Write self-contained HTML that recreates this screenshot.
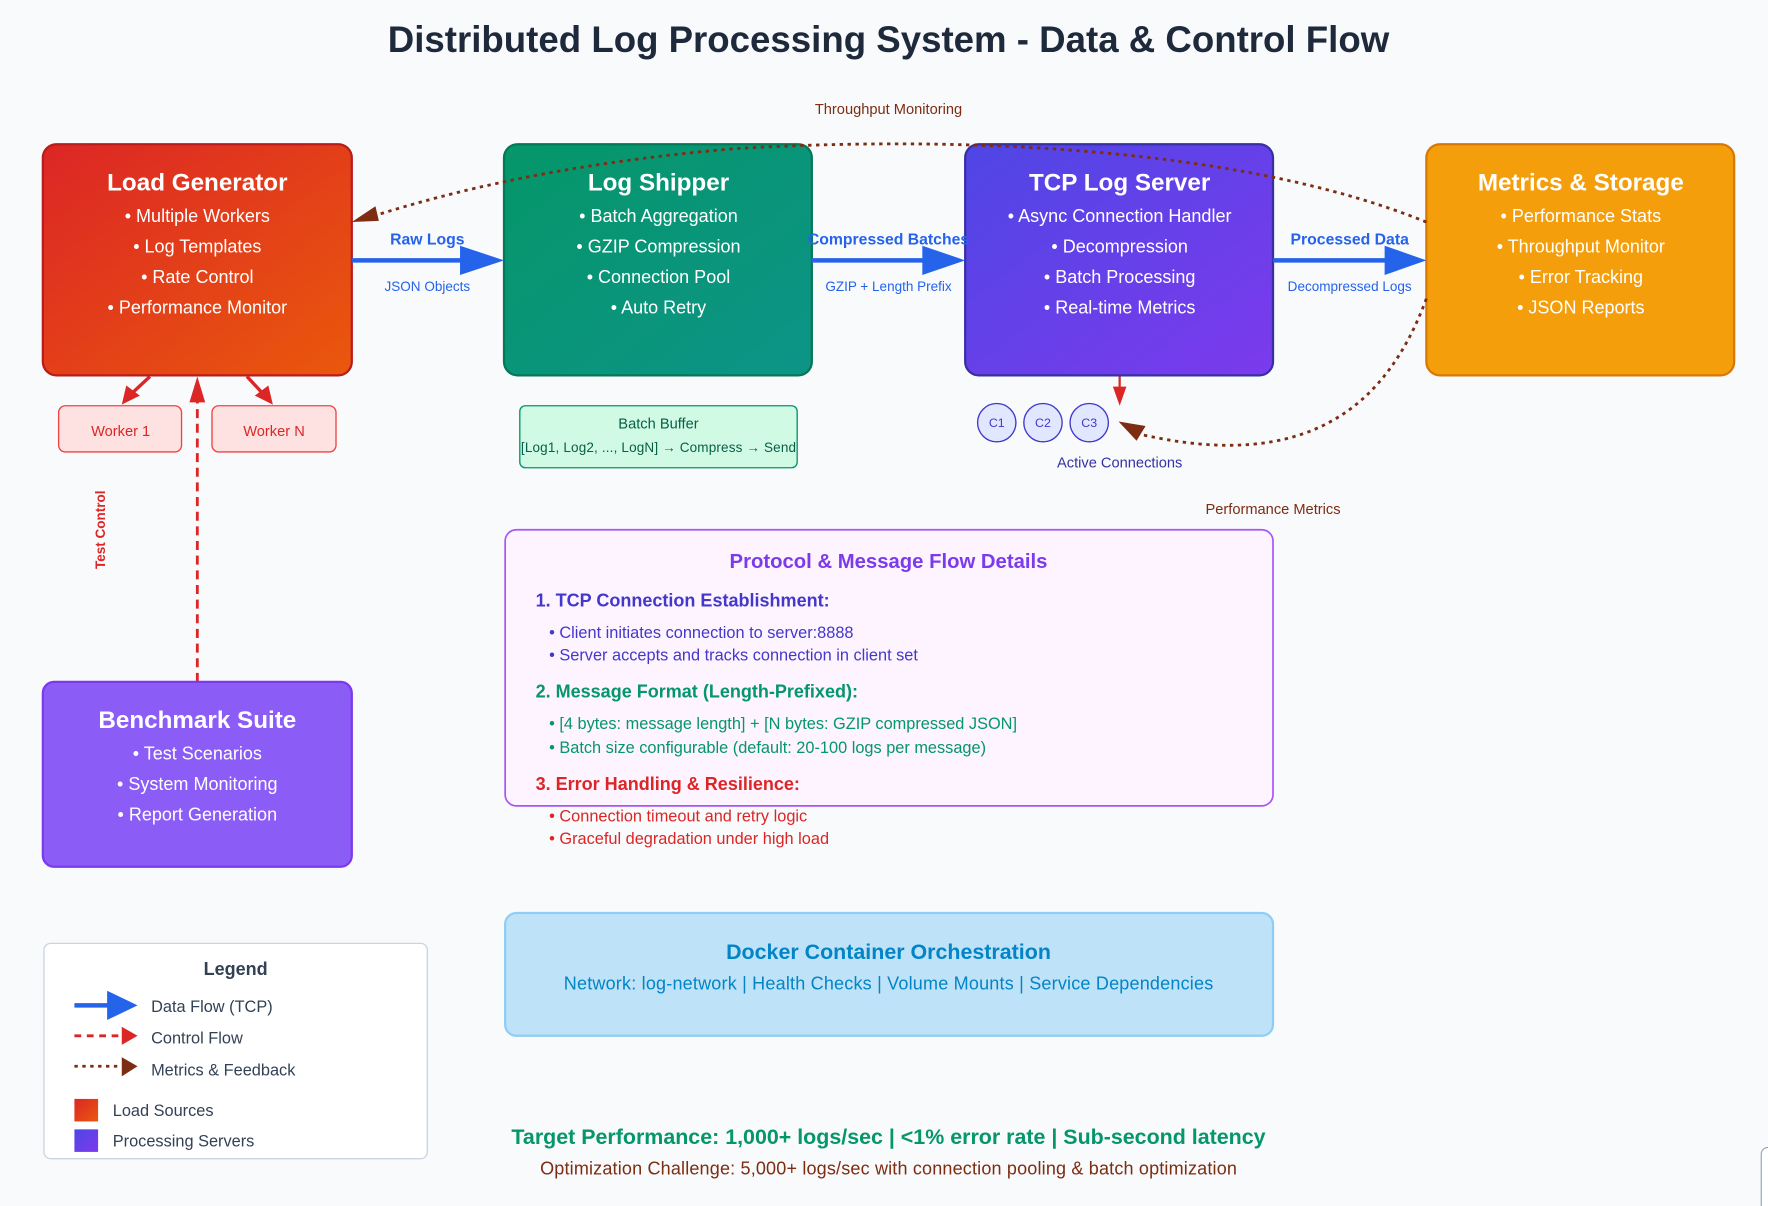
<!DOCTYPE html>
<html><head><meta charset="utf-8"><style>html,body{margin:0;padding:0;background:#f8fafc;}svg{display:block;font-family:"Liberation Sans",Arial,sans-serif;}</style></head>
<body>
<svg width="1768" height="1206" viewBox="0 0 1568 1070" preserveAspectRatio="none" xmlns="http://www.w3.org/2000/svg">
<defs>
<linearGradient id="gr" x1="0" y1="0" x2="1" y2="1"><stop offset="0" stop-color="#dc2626"/><stop offset="1" stop-color="#ea580c"/></linearGradient>
<linearGradient id="gg" x1="0" y1="0" x2="1" y2="1"><stop offset="0" stop-color="#059669"/><stop offset="1" stop-color="#0d9488"/></linearGradient>
<linearGradient id="gp" x1="0" y1="0" x2="1" y2="1"><stop offset="0" stop-color="#4f46e5"/><stop offset="1" stop-color="#7c3aed"/></linearGradient>
</defs>
<rect width="1568" height="1070" fill="#f8fafc"/>
<text x="788" y="46" text-anchor="middle" font-size="32.5" font-weight="bold" fill="#1e293b">Distributed Log Processing System - Data &amp; Control Flow</text>

<rect x="38" y="128" width="274" height="205" rx="12" fill="url(#gr)" stroke="#b91c1c" stroke-width="2"/>
<rect x="447" y="128" width="273" height="205" rx="12" fill="url(#gg)" stroke="#047857" stroke-width="2"/>
<rect x="856" y="128" width="273" height="205" rx="12" fill="url(#gp)" stroke="#3730a3" stroke-width="2"/>
<rect x="1265" y="128" width="273" height="205" rx="12" fill="#f59e0b" stroke="#d97706" stroke-width="2"/>
<g fill="#fff" text-anchor="middle">
<text x="175" y="169" font-size="21.5" font-weight="bold">Load Generator</text>
<g font-size="16"><text x="175" y="197">• Multiple Workers</text><text x="175" y="224">• Log Templates</text><text x="175" y="251">• Rate Control</text><text x="175" y="278">• Performance Monitor</text></g>
<text x="584" y="169" font-size="21.5" font-weight="bold">Log Shipper</text>
<g font-size="16"><text x="584" y="197">• Batch Aggregation</text><text x="584" y="224">• GZIP Compression</text><text x="584" y="251">• Connection Pool</text><text x="584" y="278">• Auto Retry</text></g>
<text x="993" y="169" font-size="21.5" font-weight="bold">TCP Log Server</text>
<g font-size="16"><text x="993" y="197">• Async Connection Handler</text><text x="993" y="224">• Decompression</text><text x="993" y="251">• Batch Processing</text><text x="993" y="278">• Real-time Metrics</text></g>
<text x="1402" y="169" font-size="21.5" font-weight="bold">Metrics &amp; Storage</text>
<g font-size="16"><text x="1402" y="197">• Performance Stats</text><text x="1402" y="224">• Throughput Monitor</text><text x="1402" y="251">• Error Tracking</text><text x="1402" y="278">• JSON Reports</text></g>
</g>

<g stroke="#2563eb" stroke-width="4">
<line x1="312" y1="231" x2="410" y2="231"/><line x1="720" y1="231" x2="820" y2="231"/><line x1="1129" y1="231" x2="1230" y2="231"/>
</g>
<g fill="#2563eb"><path d="M408,218 L447,231 L408,244z"/><path d="M818,218 L856,231 L818,244z"/><path d="M1228,218 L1265,231 L1228,244z"/></g>
<g fill="#2563eb" text-anchor="middle">
<text x="379" y="217" font-size="14" font-weight="bold">Raw Logs</text><text x="379" y="258" font-size="12">JSON Objects</text>
<text x="788" y="217" font-size="14" font-weight="bold">Compressed Batches</text><text x="788" y="258" font-size="12">GZIP + Length Prefix</text>
<text x="1197" y="217" font-size="14" font-weight="bold">Processed Data</text><text x="1197" y="258" font-size="12">Decompressed Logs</text>
</g>

<rect x="52" y="360" width="109" height="41" rx="6" fill="#fee2e2" stroke="#ef4444" stroke-width="1.2"/>
<rect x="188" y="360" width="110" height="41" rx="6" fill="#fee2e2" stroke="#ef4444" stroke-width="1.2"/>
<g fill="#dc2626" font-size="13" text-anchor="middle"><text x="107" y="387">Worker 1</text><text x="243" y="387">Worker N</text></g>
<g stroke="#dc2626" stroke-width="3"><line x1="133" y1="334" x2="118" y2="348"/><line x1="219" y1="334" x2="232" y2="348"/></g>
<path d="M108,359 L112,342 L124,351z" fill="#dc2626"/><path d="M242,359 L226,351 L238,342z" fill="#dc2626"/>
<line x1="175" y1="605" x2="175" y2="352" stroke="#dc2626" stroke-width="2.5" stroke-dasharray="8,5"/>
<path d="M175,334 L168,357 L182,357z" fill="#dc2626"/>
<text transform="translate(93,470) rotate(-90)" text-anchor="middle" font-size="12" font-weight="bold" fill="#dc2626">Test Control</text>

<rect x="461" y="360" width="246" height="55" rx="5" fill="#d1fae5" stroke="#059669" stroke-width="1.2"/>
<text x="584" y="380" text-anchor="middle" font-size="13" fill="#065f46">Batch Buffer</text>
<text x="584" y="401" text-anchor="middle" font-size="12" fill="#065f46" textLength="244">[Log1, Log2, ..., LogN] → Compress → Send</text>

<g fill="#e0e7ff" stroke="#4338ca" stroke-width="1.2"><circle cx="884" cy="375" r="17"/><circle cx="925" cy="375" r="17"/><circle cx="966" cy="375" r="17"/></g>
<g fill="#4338ca" font-size="11" text-anchor="middle"><text x="884" y="379">C1</text><text x="925" y="379">C2</text><text x="966" y="379">C3</text></g>
<text x="993" y="415" text-anchor="middle" font-size="13" fill="#3730a3">Active Connections</text>
<line x1="993" y1="334" x2="993" y2="345" stroke="#dc2626" stroke-width="2"/>
<path d="M987,343 L999,343 L993,360z" fill="#dc2626"/>

<path d="M1265,197 C1100,130 850,120 650,132 C500,145 400,170 330,192" fill="none" stroke="#7c2d12" stroke-width="2.5" stroke-dasharray="3,4"/>
<path d="M312,197 L333,183 L336,196z" fill="#7c2d12"/>
<text x="788" y="101" text-anchor="middle" font-size="13" fill="#7c2d12">Throughput Monitoring</text>
<path d="M1265,265 C1230,360 1160,420 1010,385" fill="none" stroke="#7c2d12" stroke-width="2.5" stroke-dasharray="3,4"/>
<path d="M992,374 L1016,378 L1008,391z" fill="#7c2d12"/>
<text x="1129" y="456" text-anchor="middle" font-size="13" fill="#7c2d12">Performance Metrics</text>

<rect x="448" y="470" width="681" height="245" rx="10" fill="#fdf4ff" stroke="#a855f7" stroke-width="1.5"/>
<text x="788" y="504" text-anchor="middle" font-size="18" font-weight="bold" fill="#7c3aed">Protocol &amp; Message Flow Details</text>
<text x="475" y="538" font-size="16" font-weight="bold" fill="#4338ca">1. TCP Connection Establishment:</text>
<g font-size="14.5" fill="#4338ca"><text x="487" y="566">• Client initiates connection to server:8888</text><text x="487" y="586">• Server accepts and tracks connection in client set</text></g>
<text x="475" y="619" font-size="16" font-weight="bold" fill="#059669">2. Message Format (Length-Prefixed):</text>
<g font-size="14.5" fill="#059669"><text x="487" y="647">• [4 bytes: message length] + [N bytes: GZIP compressed JSON]</text><text x="487" y="668">• Batch size configurable (default: 20-100 logs per message)</text></g>
<text x="475" y="701" font-size="16" font-weight="bold" fill="#dc2626">3. Error Handling &amp; Resilience:</text>
<g font-size="14.5" fill="#dc2626"><text x="487" y="729">• Connection timeout and retry logic</text><text x="487" y="749">• Graceful degradation under high load</text></g>

<rect x="38" y="605" width="274" height="164" rx="10" fill="#8b5cf6" stroke="#7c3aed" stroke-width="2"/>
<g fill="#fff" text-anchor="middle"><text x="175" y="646" font-size="21.5" font-weight="bold">Benchmark Suite</text>
<g font-size="16"><text x="175" y="674">• Test Scenarios</text><text x="175" y="701">• System Monitoring</text><text x="175" y="728">• Report Generation</text></g></g>

<rect x="448" y="810" width="681" height="109" rx="10" fill="#bee3f8" stroke="#90cdf4" stroke-width="2"/>
<text x="788" y="851" text-anchor="middle" font-size="19" font-weight="bold" fill="#0284c7">Docker Container Orchestration</text>
<text x="788" y="878" text-anchor="middle" font-size="16" fill="#0284c7" textLength="576">Network: log-network | Health Checks | Volume Mounts | Service Dependencies</text>

<rect x="39" y="837" width="340" height="191" rx="6" fill="#fff" stroke="#cbd5e1" stroke-width="1.2"/>
<text x="209" y="865" text-anchor="middle" font-size="16" font-weight="bold" fill="#334155">Legend</text>
<line x1="66" y1="892" x2="100" y2="892" stroke="#2563eb" stroke-width="4"/><path d="M95,879 L122,892 L95,905z" fill="#2563eb"/>
<line x1="66" y1="919" x2="108" y2="919" stroke="#dc2626" stroke-width="2.5" stroke-dasharray="6,5"/><path d="M108,911 L122,919 L108,927z" fill="#dc2626"/>
<line x1="66" y1="946" x2="108" y2="946" stroke="#7c2d12" stroke-width="2.5" stroke-dasharray="3,4"/><path d="M108,938 L122,946 L108,955z" fill="#7c2d12"/>
<g font-size="14.5" fill="#334155"><text x="134" y="898">Data Flow (TCP)</text><text x="134" y="926">Control Flow</text><text x="134" y="954">Metrics &amp; Feedback</text><text x="100" y="990">Load Sources</text><text x="100" y="1017">Processing Servers</text></g>
<rect x="66" y="975" width="21" height="20" fill="url(#gr)"/><rect x="66" y="1002" width="21" height="20" fill="url(#gp)"/>

<text x="788" y="1015" text-anchor="middle" font-size="19" font-weight="bold" fill="#059669">Target Performance: 1,000+ logs/sec | &lt;1% error rate | Sub-second latency</text>
<text x="788" y="1042" text-anchor="middle" font-size="16" fill="#7c2d12" textLength="618">Optimization Challenge: 5,000+ logs/sec with connection pooling &amp; batch optimization</text>
<rect x="1562" y="1018" width="20" height="60" rx="6" fill="#fff" stroke="#94a3b8"/>
</svg>
</body></html>
